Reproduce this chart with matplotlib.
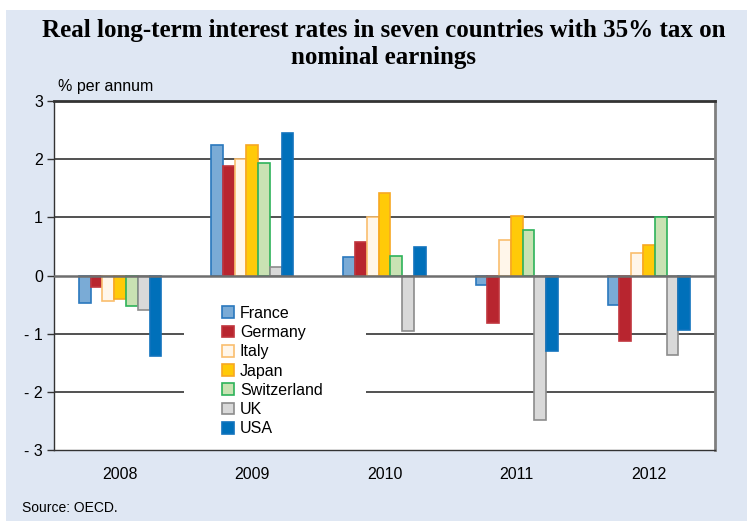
import matplotlib
matplotlib.use("Agg")
import matplotlib.pyplot as plt
from matplotlib.patches import Rectangle
import numpy as np

years = ["2008", "2009", "2010", "2011", "2012"]
countries = ["France", "Germany", "Italy", "Japan", "Switzerland", "UK", "USA"]
france = [-0.47, 2.24, 0.32, -0.16, -0.51]
germany = [-0.20, 1.89, 0.57, -0.82, -1.13]
italy = [-0.44, 2.00, 1.00, 0.61, 0.38]
japan = [-0.41, 2.25, 1.42, 1.02, 0.53]
switzerland = [-0.52, 1.93, 0.34, 0.78, 1.00]
uk = [-0.60, 0.14, -0.96, -2.48, -1.36]
usa = [-1.39, 2.45, 0.49, -1.29, -0.93]
series = [france, germany, italy, japan, switzerland, uk, usa]

faces = ["#7AABD6", "#B8252F", "#FFF6EA", "#FFCA08", "#C9E2B3", "#D9D9D9", "#0070BA"]
edges = ["#2A78BD", "#C0353D", "#F9BE6E", "#F7A823", "#2DB35A", "#8C8C8C", "#1273BD"]

plt.rcParams["font.family"] = ["Liberation Sans", "DejaVu Sans"]

fig = plt.figure(figsize=(7.47, 5.21), dpi=100)
fig.patch.set_facecolor("white")
fig.patches.append(Rectangle((6 / 747, 0), 1 - 6 / 747, 511 / 521, transform=fig.transFigure,
                             facecolor="#DFE7F3", edgecolor="none", zorder=-10))

ax = fig.add_axes([54 / 747, 71 / 521, 661 / 747, 349 / 521])
ax.set_facecolor("white")
ax.set_xlim(-0.5, len(years) - 0.5)
ax.set_ylim(-3, 3)

x = np.arange(len(years))
w = 0.089
for i, (vals, fc, ec, name) in enumerate(zip(series, faces, edges, countries)):
    ax.bar(x + (i - 3) * w, vals, width=w, color=fc, edgecolor=ec, linewidth=1.2,
           label=name, zorder=3)

for yv in [1, 2, -1, -2]:
    ax.axhline(yv, color="#222222", linewidth=1.1, zorder=1)
ax.axhline(0, color="#6E6E6E", linewidth=1.8, zorder=4)

# white area behind legend
ax.add_patch(Rectangle((0.197, 0.03), 0.275, 0.40, transform=ax.transAxes,
                       facecolor="white", edgecolor="none", zorder=2))

ax.set_xticks(x)
ax.set_xticklabels(years, fontsize=11.5)
ax.tick_params(axis="x", length=0, pad=12)
ax.set_yticks([3, 2, 1, 0, -1, -2, -3])
ax.set_yticklabels(["3", "2", "1", "0", "- 1", "- 2", "- 3"], fontsize=11.5)
ax.tick_params(axis="y", length=5, width=1, color="#333333", pad=3)

for s in ["left", "bottom"]:
    ax.spines[s].set_color("#333333")
    ax.spines[s].set_linewidth(1.0)
ax.spines["top"].set_color("#333333")
ax.spines["top"].set_linewidth(2.0)
ax.spines["right"].set_color("#7F7F7F")
ax.spines["right"].set_linewidth(2.0)

leg = ax.legend(loc="upper left", bbox_to_anchor=(0.245, 0.432), frameon=False,
                fontsize=11.5, handlelength=0.75, handleheight=0.75, handletextpad=0.35,
                labelspacing=0.27, borderaxespad=0)
leg.set_zorder(6)

fig.text(58 / 747, 1 - 86 / 521, "% per annum", fontsize=11.5, ha="left", va="center")
fig.text(384 / 747, 1 - 44 / 521,
         "Real long-term interest rates in seven countries with 35% tax on\nnominal earnings",
         fontsize=18, fontweight="bold", family="Liberation Serif", ha="center", va="center",
         linespacing=1.25)
fig.text(22 / 747, 1 - 508 / 521, "Source: OECD.", fontsize=10, ha="left", va="center")

fig.savefig("out.png", dpi=100, facecolor=fig.get_facecolor())
